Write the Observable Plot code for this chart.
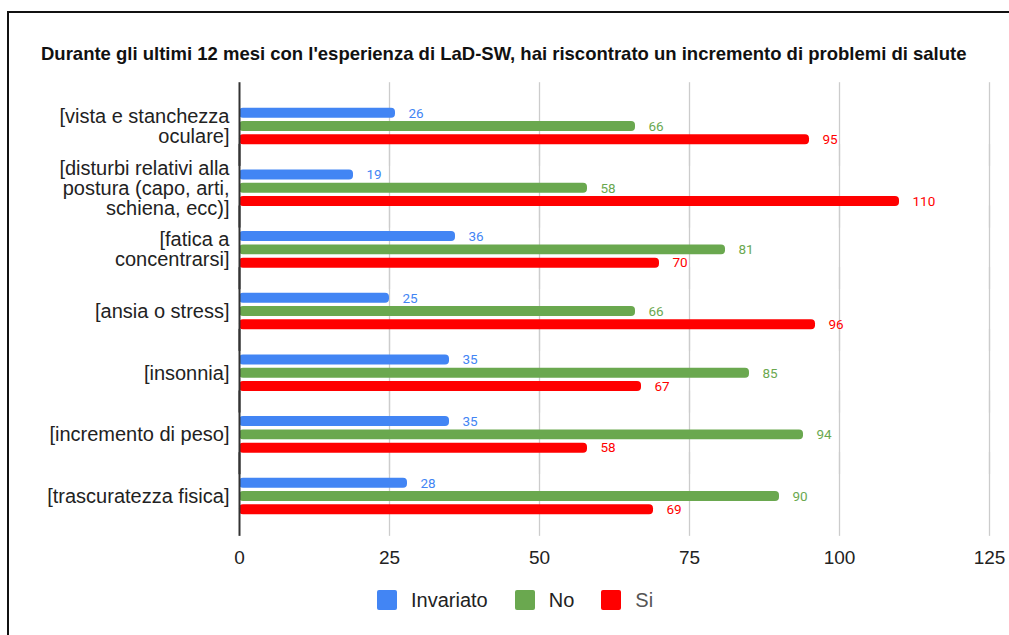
<!DOCTYPE html>
<html>
<head>
<meta charset="utf-8">
<script src="https://cdn.jsdelivr.net/npm/d3@7"></script>
<script src="https://cdn.jsdelivr.net/npm/@observablehq/plot@0.6"></script>
<style>
  html, body { margin: 0; padding: 0; background: #fff; }
  body { width: 1009px; height: 635px; position: relative; overflow: hidden; font-family: "Liberation Sans", Arial, sans-serif; }
  #frame { position: absolute; left: 7px; top: 11px; width: 1040px; height: 660px; border: 2px solid #111; box-sizing: border-box; }
  #title { position: absolute; left: 41px; top: 43px; font-size: 18.5px; line-height: 22px; font-weight: bold; color: #111; white-space: nowrap; }
  #chart { position: absolute; left: 0; top: 0; }
  #legend { position: absolute; left: 377px; top: 590px; display: flex; align-items: center; font-size: 20px; line-height: 20px; color: #222; }
  .item { display: flex; align-items: center; margin-right: 27px; }
  .sw { width: 20px; height: 20px; border-radius: 2px; margin-right: 14px; }
</style>
</head>
<body>
<div id="frame"></div>
<div id="title"></div>
<div id="chart"></div>
<div id="legend"></div>
<script>
const title = "Durante gli ultimi 12 mesi con l'esperienza di LaD-SW, hai riscontrato un incremento di problemi di salute";
const categories = [
  "[vista e stanchezza\noculare]",
  "[disturbi relativi alla\npostura (capo, arti,\nschiena, ecc)]",
  "[fatica a\nconcentrarsi]",
  "[ansia o stress]",
  "[insonnia]",
  "[incremento di peso]",
  "[trascuratezza fisica]"
];
const series = ["Invariato", "No", "Si"];
const invariato = [26, 19, 36, 25, 35, 35, 28];
const no = [66, 58, 81, 66, 85, 94, 90];
const si = [95, 110, 70, 96, 67, 58, 69];
const xTicks = [0, 25, 50, 75, 100, 125];
const colors = ["#4285f4", "#6aa84f", "#ff0000"];
const legendText = ["#222", "#222", "#555"];

const values = [invariato, no, si];
const data = categories.flatMap((c, i) =>
  series.map((s, j) => ({category: c, series: s, value: values[j][i]}))
);

document.getElementById("title").textContent = title;

const chart = Plot.plot({
  width: 1009,
  height: 580,
  marginLeft: 239,
  marginRight: 20,
  marginTop: 83,
  marginBottom: 45,
  style: {fontFamily: "'Liberation Sans', Arial, sans-serif", background: "transparent", color: "#222"},
  x: {domain: [0, 125]},
  fy: {domain: categories, paddingInner: 0, paddingOuter: 0.165, align: 0.6, round: false},
  y: {domain: series, paddingInner: 0.25, paddingOuter: 0.943, axis: null, round: false},
  color: {domain: series, range: colors},
  marks: [
    Plot.ruleX(xTicks.slice(1), {stroke: "#cccccc", strokeWidth: 1.3, insetTop: -13, insetBottom: -9}),
    Plot.barX(data, {fy: "category", y: "series", x: "value", fill: "series", rx: 4}),
    Plot.text(data, {
      fy: "category", y: "series", x: "value", text: d => String(d.value),
      fill: "series", dx: 13, textAnchor: "start", fontSize: 13.5,
      fontFamily: "Roboto, sans-serif", fontWeight: "normal"
    }),
    Plot.ruleX([0], {stroke: "#333", strokeWidth: 2, insetTop: -13, insetBottom: -9}),
    Plot.axisFy({anchor: "left", tickSize: 0, tickPadding: 10, fontSize: 20, label: null, fill: "#222"}),
    Plot.axisX({ticks: xTicks, tickSize: 0, tickPadding: 23, fontSize: 19, label: null, fill: "#222"})
  ]
});
document.getElementById("chart").appendChild(chart);

const legend = document.getElementById("legend");
series.forEach((s, i) => {
  const item = document.createElement("div");
  item.className = "item";
  const sw = document.createElement("div");
  sw.className = "sw";
  sw.style.background = colors[i];
  const t = document.createElement("span");
  t.textContent = s;
  t.style.color = legendText[i];
  item.appendChild(sw);
  item.appendChild(t);
  legend.appendChild(item);
});
</script>
</body>
</html>
